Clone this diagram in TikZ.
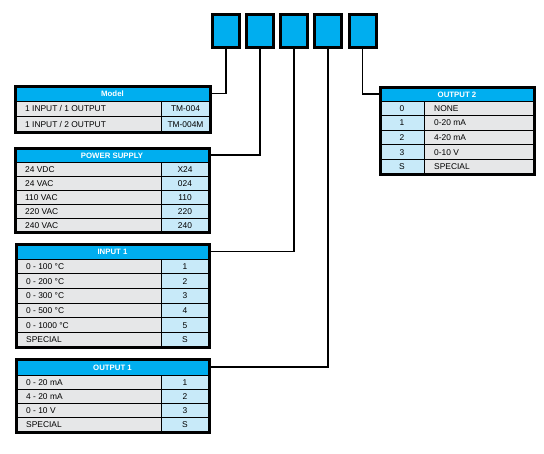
\documentclass[tikz,border=0pt]{standalone}
\usepackage{fontspec}
\setmainfont{Liberation Sans}
\definecolor{hdr}{HTML}{00AEEF}
\definecolor{gry}{HTML}{E6E7E8}
\definecolor{lbl}{HTML}{C8EAF9}
\tikzset{
  txt/.style={font=\fontsize{8.4}{10}\selectfont, inner sep=0pt, text height=6pt, text depth=0pt},
  hdrnode/.style={fill=hdr, inner sep=0pt, text=white, font=\bfseries\fontsize{7.8}{9}\selectfont, text height=6pt, text depth=0pt},
  digit/.style={draw=black, line width=3pt, fill=hdr, minimum width=27pt, minimum height=33pt, inner sep=0pt},
  conn/.style={line width=1.2pt},
  grid/.style={line width=0.9pt},
  frame/.style={line width=3pt},
}
% L D R H h name list  (gray description left, blue code right)
\newcommand\rowsLR[7]{%
 \foreach \a/\b [count=\i] in {#7}{%
   \pgfmathsetmacro\yc{#4+(\i-0.5)*#5}%
   \pgfmathsetmacro\yb{#4+\i*#5}%
   \node[txt,anchor=west] (#6l\i) at (#1+10,\yc) {\a};
   \node[txt] (#6r\i) at ({(#2+#3)/2},\yc) {\b};
   \draw[grid] (#1,\yb) -- (#3,\yb);
 }}
% L D R H h name list  (blue code left, gray description right)
\newcommand\rowsCL[7]{%
 \foreach \a/\b [count=\i] in {#7}{%
   \pgfmathsetmacro\yc{#4+(\i-0.5)*#5}%
   \pgfmathsetmacro\yb{#4+\i*#5}%
   \node[txt] (#6l\i) at ({(#1+#2)/2},\yc) {\a};
   \node[txt,anchor=west] (#6r\i) at (#2+10,\yc) {\b};
   \draw[grid] (#1,\yb) -- (#3,\yb);
 }}
\begin{document}
\begin{tikzpicture}[x=1pt,y=-1pt]
\useasboundingbox (0,0) rectangle (544,453);
% top code boxes
\node[digit] (b1) at (226,31) {};
\node[digit] (b2) at (260,31) {};
\node[digit] (b3) at (294,31) {};
\node[digit] (b4) at (328,31) {};
\node[digit] (b5) at (362.5,31) {};

% ---------- Model ----------
\fill[gry] (15,101) rectangle (161,132);
\fill[lbl] (161,101) rectangle (210,132);
\node[hdrnode, minimum width=195pt, minimum height=15pt] (model) at (112.5,93.5) {Model};
\rowsLR{15}{161}{210}{101}{15.5}{mo}{{1 INPUT / 1 OUTPUT}/TM-004, {1 INPUT / 2 OUTPUT}/TM-004M}
\draw[grid] (15,101) -- (210,101);
\draw[grid] (161,101) -- (161,132);
\draw[frame] (15,86) rectangle (210,132);

% ---------- Power supply ----------
\fill[gry] (15,162) rectangle (161,232);
\fill[lbl] (161,162) rectangle (209,232);
\node[hdrnode, minimum width=194pt, minimum height=14pt] (power) at (112,155) {POWER SUPPLY};
\rowsLR{15}{161}{209}{162}{14}{ps}{24 VDC/X24, 24 VAC/024, 110 VAC/110, 220 VAC/220, 240 VAC/240}
\draw[grid] (15,162) -- (209,162);
\draw[grid] (161,162) -- (161,232);
\draw[frame] (15,148) rectangle (209,232);

% ---------- Input 1 ----------
\fill[gry] (16,259) rectangle (161,347);
\fill[lbl] (161,259) rectangle (209,347);
\node[hdrnode, minimum width=193pt, minimum height=15pt] (in1) at (112.5,251.5) {INPUT 1};
\rowsLR{16}{161}{209}{259}{14.667}{ia}{0 - 100 °C/1, 0 - 200 °C/2, 0 - 300 °C/3, 0 - 500 °C/4, 0 - 1000 °C/5, SPECIAL/S}
\draw[grid] (16,259) -- (209,259);
\draw[grid] (161,259) -- (161,347);
\draw[frame] (16,244) rectangle (209,347);

% ---------- Output 1 ----------
\fill[gry] (16,375) rectangle (161,432);
\fill[lbl] (161,375) rectangle (209,432);
\node[hdrnode, minimum width=193pt, minimum height=16pt] (out1) at (112.5,367) {OUTPUT 1};
\rowsLR{16}{161}{209}{375}{14.25}{oa}{0 - 20 mA/1, 4 - 20 mA/2, 0 - 10 V/3, SPECIAL/S}
\draw[grid] (16,375) -- (209,375);
\draw[grid] (161,375) -- (161,432);
\draw[frame] (16,359) rectangle (209,432);

% ---------- Output 2 ----------
\fill[lbl] (380,101) rectangle (424,174);
\fill[gry] (424,101) rectangle (534,174);
\node[hdrnode, minimum width=154pt, minimum height=14pt] (out2) at (457,94) {OUTPUT 2};
\rowsCL{380}{424}{534}{101}{14.6}{ob}{0/NONE, 1/0-20 mA, 2/4-20 mA, 3/0-10 V, S/SPECIAL}
\draw[grid] (380,101) -- (534,101);
\draw[grid] (424,101) -- (424,174);
\draw[frame] (380,87) rectangle (534,174);

% ---------- connectors ----------
\draw[conn] (b1.south) |- (model.east);
\draw[conn] (b2.south) |- (power.east);
\draw[conn] (b3.south) |- (in1.east);
\draw[conn] (b4.south) |- (out1.east);
\draw[conn] (b5.south) |- (out2.west);
\end{tikzpicture}
\end{document}
